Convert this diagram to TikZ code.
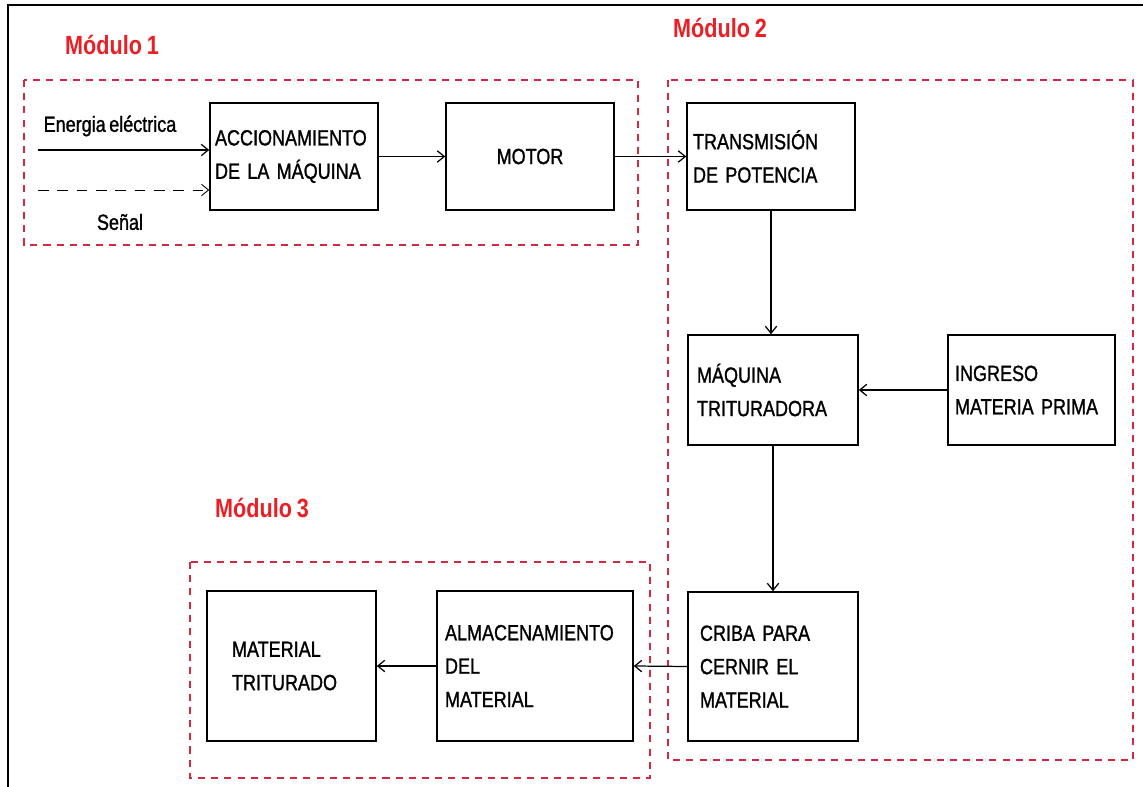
\documentclass[tikz,border=0pt]{standalone}
\usepackage[dvipsnames]{xcolor}
\usepackage{fontspec}
\setmainfont{Liberation Sans}[FakeStretch=0.82, WordSpace=0.8]
\newfontfamily\blkfont{Liberation Sans}[FakeStretch=0.82, WordSpace=0.7, FakeBold=1.2]
\usepackage{tikz}
\usetikzlibrary{arrows.meta}

\definecolor{modred}{RGB}{210,40,65}
\definecolor{labred}{RGB}{235,30,35}

\tikzset{
  blk/.style={draw, line width=0.9pt, inner ysep=0pt, align=left, font=\blkfont\fontsize{12.5}{19}\selectfont},
  modbox/.style={draw=modred, dash pattern=on 4pt off 3.5pt, line width=0.6pt},
  modlabel/.style={text=labred, font=\fontsize{15}{18}\selectfont\bfseries},
  flow/.style={-{Straight Barb[length=4pt, width=6.5pt]}, line width=0.7pt},
}

\begin{document}
\begin{tikzpicture}[x=0.02cm, y=-0.02cm]

\useasboundingbox (0,0) rectangle (1143,787);
\draw[line width=1.2pt] (8,787) -- (8,5) -- (1143,5); % marco

% modulos
\draw[modbox] (24,80) rectangle (638,245);
\draw[modbox] (668,80) rectangle (1133,760);
\draw[modbox] (190,562) rectangle (650,778);

\node (mod1) at (112,45) [modlabel] {Módulo 1};
\node (mod2) at (720,28) [modlabel] {Módulo 2};
\node (mod3) at (262,508) [modlabel] {Módulo 3};

% bloques
\node (accion) at (294,156.5) [blk, minimum height=2.14cm, inner xsep=0.1cm, text width=3.16cm] {ACCIONAMIENTO\\DE LA MÁQUINA};
\node (motor) at (530,156.5) [blk, minimum height=2.14cm, minimum width=3.36cm, align=center] {MOTOR};
\node (trans) at (771,156.5) [blk, minimum height=2.14cm, inner xsep=0.12cm, text width=3.12cm] {TRANSMISIÓN\\DE POTENCIA};
\node (maquina) at (773,390) [blk, minimum height=2.2cm, inner xsep=0.18cm, text width=3.04cm] {MÁQUINA\\TRITURADORA};
\node (ingreso) at (1031.5,390) [blk, minimum height=2.2cm, inner xsep=0.14cm, text width=3.06cm] {INGRESO\\MATERIA PRIMA};
\node (criba) at (773,666.5) [blk, minimum height=2.98cm, inner xsep=0.24cm, text width=2.92cm] {CRIBA PARA\\CERNIR EL\\MATERIAL};
\node (almac) at (535,666) [blk, minimum height=3cm, inner xsep=0.16cm, text width=3.6cm] {ALMACENAMIENTO\\DEL\\MATERIAL};
\node (material) at (291.5,666) [blk, minimum height=3cm, inner xsep=0.5cm, text width=2.38cm] {MATERIAL\\TRITURADO};

% entradas
\coordinate (energia) at (38,150);
\coordinate (senal) at (38,190);
\node (tenergia) at (110,126) [font=\blkfont\fontsize{12.5}{15}\selectfont] {Energia eléctrica};
\node (tsenal) at (120,222) [font=\blkfont\fontsize{12.5}{15}\selectfont] {Señal};
\draw[flow] (energia) -- (energia -| accion.west);
\draw[flow, line width=0.5pt, dash pattern=on 6pt off 5pt] (senal) -- (senal -| accion.west);

% flujo
\draw[flow] (accion.east) -- (motor.west);
\draw[flow] (motor.east) -- (trans.west);
\draw[flow] (trans.south) -- (trans.south |- maquina.north);
\draw[flow] (ingreso.west) -- (maquina.east);
\draw[flow] (maquina.south) -- (criba.north);
\draw[flow] (criba.west) -- (almac.east);
\draw[flow] (almac.west) -- (material.east);

\end{tikzpicture}
\end{document}
